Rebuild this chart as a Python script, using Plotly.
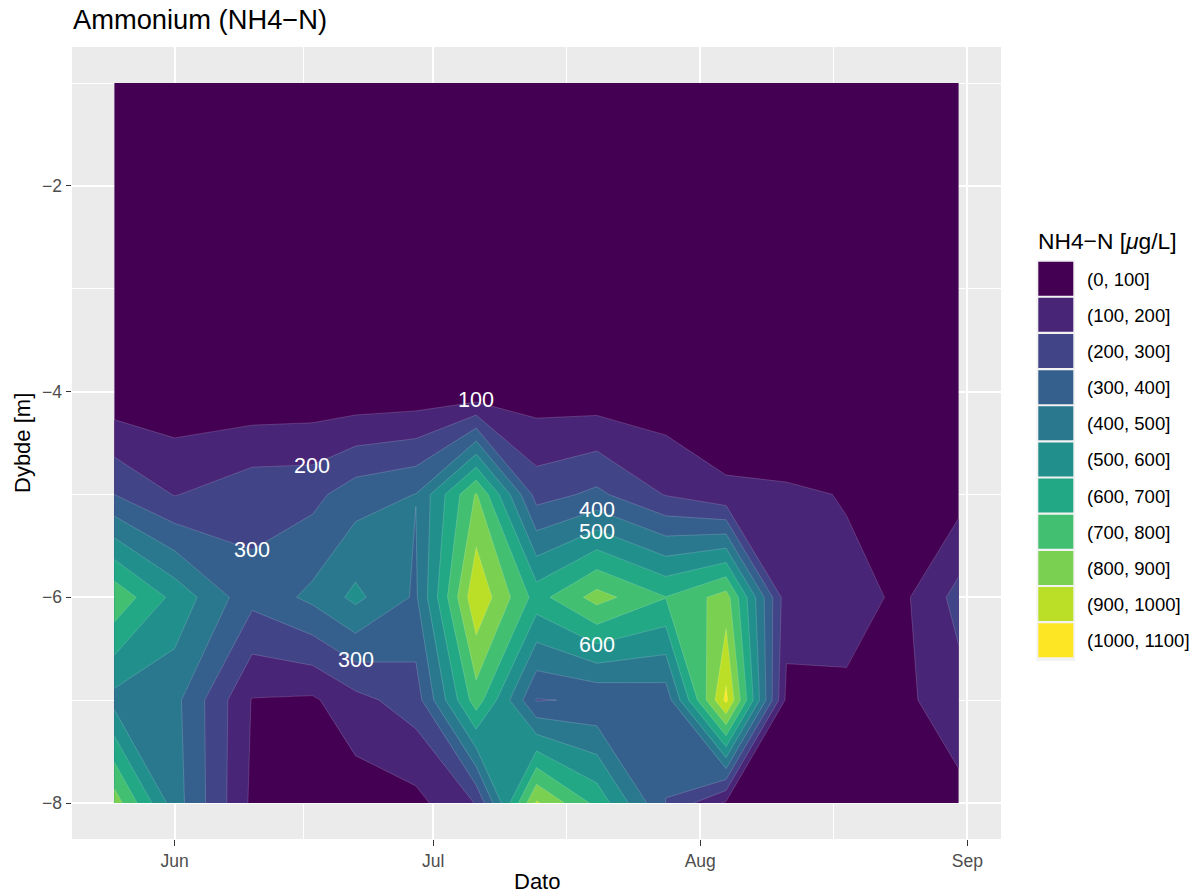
import plotly.graph_objects as go
import pandas as pd

# ---------------- data ----------------
dates = ["2023-05-25", "2023-06-01", "2023-06-10", "2023-06-17", "2023-06-22",
         "2023-06-29", "2023-07-06", "2023-07-13", "2023-07-20", "2023-07-28",
         "2023-08-04", "2023-08-11", "2023-08-18", "2023-08-25", "2023-08-31"]
depths = [-1, -2, -3, -4, -5, -6, -7, -8]

nh4_1m = [18, 22, 15, 20, 25, 19, 23, 28, 21, 17, 12, 10, 9, 8, 11]
nh4_2m = [20, 19, 17, 22, 24, 21, 25, 30, 24, 19, 10, 9, 8, 7, 9]
nh4_3m = [22, 20, 18, 24, 22, 26, 22, 35, 28, 25, 8, 7, 6, 6, 7]
nh4_4m = [25, 22, 20, 26, 25, 30, 20, 45, 33, 31, 5, 5, 5, 5, 5]
nh4_5m = [300, 195, 265, 270, 355, 402, 810, 258, 322, 194, 122, 113, 96, 50, 60]
nh4_6m = [775, 570, 330, 425, 525, 385, 985, 660, 840, 703, 845, 140, 115, 91, 235]
nh4_7m = [465, 430, 95, 85, 168, 250, 755, 295, 310, 338, 1025, 78, 93, 84, 160]
nh4_8m = [855, 447, 80, 50, 42, 70, 205, 913, 670, 298, 85, 30, 40, 30, 70]

# contour labels
label_dates = ["2023-07-06", "2023-06-17", "2023-06-10", "2023-06-22",
               "2023-07-20", "2023-07-20", "2023-07-20"]
label_depths = [-4.08, -4.72, -5.54, -6.61, -5.15, -5.37, -6.46]
label_texts = ["100", "200", "300", "300", "400", "500", "600"]

# legend bins and viridis colours
bins = [0, 100, 200, 300, 400, 500, 600, 700, 800, 900, 1000, 1100]
colors = ["#440154", "#482576", "#414487", "#35608D", "#2A788E", "#21908C",
          "#22A884", "#43BF71", "#7AD151", "#BBDF27", "#FDE725"]

x_major = ["2023-06-01", "2023-07-01", "2023-08-01", "2023-09-01"]
x_major_text = ["Jun", "Jul", "Aug", "Sep"]
x_minor = ["2023-06-16", "2023-07-16 12:00", "2023-08-16 12:00"]
y_major = [-2, -4, -6, -8]
y_minor = [-1, -3, -5, -7]

# ---------------- figure ----------------
FONT = "Liberation Sans, Arial, Helvetica, sans-serif"
W, H = 1200, 894
L, R, T, B = 72, 1001, 47, 839


def px(xp):
    return (xp - L) / (R - L)


def py(yp):
    return (B - yp) / (B - T)


z = [nh4_1m, nh4_2m, nh4_3m, nh4_4m, nh4_5m, nh4_6m, nh4_7m, nh4_8m]
n = len(colors)
colorscale = [[i / (n - 1), c] for i, c in enumerate(colors)]

fig = go.Figure()
fig.add_trace(go.Contour(
    x=pd.to_datetime(dates), y=depths, z=z,
    colorscale=colorscale, showscale=False,
    contours=dict(start=bins[1], end=bins[-2], size=bins[1] - bins[0],
                  coloring="fill", showlines=True),
    line=dict(color="rgba(255,255,255,0.28)", width=0.6, smoothing=0),
    hoverinfo="skip",
))

# x range with ggplot 5% expansion
d = pd.to_datetime(dates)
span = d.max() - d.min()
xr = [d.min() - 0.05 * span, d.max() + 0.05 * span]
yspan = max(depths) - min(depths)
yr = [min(depths) - 0.05 * yspan, max(depths) + 0.05 * yspan]

for dt, dp, tx in zip(label_dates, label_depths, label_texts):
    fig.add_annotation(x=dt, y=dp, text=tx, showarrow=False,
                       font=dict(family=FONT, size=21.5, color="white"))

shapes = []
annotations = []
# legend
shapes.append(dict(type="rect", xref="paper", yref="paper",
                   x0=px(1036.5), x1=px(1075), y0=py(661), y1=py(260),
                   fillcolor="#F2F2F2", line=dict(width=0), layer="above"))
for k in range(n):
    top = 261.7 + 36.15 * k
    shapes.append(dict(type="rect", xref="paper", yref="paper",
                       x0=px(1038.3), x1=px(1073.3), y0=py(top + 34), y1=py(top),
                       fillcolor=colors[k], line=dict(width=0), layer="above"))
    annotations.append(dict(xref="paper", yref="paper", x=px(1085), y=py(top + 17.5),
                            xanchor="left", yanchor="middle", showarrow=False,
                            text=f"({bins[k]}, {bins[k + 1]}]",
                            font=dict(family=FONT, size=18.5, color="black")))
annotations.append(dict(xref="paper", yref="paper", x=px(1036), y=py(241),
                        xanchor="left", yanchor="middle", showarrow=False,
                        text="NH4\u2212N [<i>\u03bc</i>g/L]",
                        font=dict(family=FONT, size=22.8, color="black")))
# title and axis titles
annotations.append(dict(xref="paper", yref="paper", x=px(71), y=py(20),
                        xanchor="left", yanchor="middle", showarrow=False,
                        text="Ammonium (NH4\u2212N)",
                        font=dict(family=FONT, size=27.3, color="black")))
annotations.append(dict(xref="paper", yref="paper", x=px((L + R) / 2), y=py(881),
                        xanchor="center", yanchor="middle", showarrow=False,
                        text="Dato", font=dict(family=FONT, size=22, color="black")))
annotations.append(dict(xref="paper", yref="paper", x=px(22), y=py((T + B) / 2),
                        xanchor="center", yanchor="middle", showarrow=False,
                        textangle=-90, text="Dybde [m]",
                        font=dict(family=FONT, size=22, color="black")))
for a in annotations:
    fig.add_annotation(**a)

fig.update_layout(
    width=W, height=H,
    margin=dict(l=L, r=W - R, t=T, b=H - B, pad=0),
    paper_bgcolor="white", plot_bgcolor="#EBEBEB",
    showlegend=False, shapes=shapes,
    font=dict(family=FONT),
)
fig.update_xaxes(
    range=xr, tickmode="array", tickvals=x_major, ticktext=x_major_text,
    showgrid=True, gridcolor="white", gridwidth=2.4, zeroline=False,
    ticks="outside", ticklen=5.5, tickwidth=1.4, tickcolor="#333333",
    tickfont=dict(family=FONT, size=17.5, color="#4D4D4D"),
    minor=dict(tickmode="array", tickvals=x_minor, showgrid=True,
               gridcolor="white", gridwidth=1.2, ticks=""),
    showline=False,
)
fig.update_yaxes(
    range=yr, tickmode="array", tickvals=y_major,
    showgrid=True, gridcolor="white", gridwidth=2.4, zeroline=False,
    ticks="outside", ticklen=5.5, tickwidth=1.4, tickcolor="#333333",
    tickfont=dict(family=FONT, size=17.5, color="#4D4D4D"),
    minor=dict(tickmode="array", tickvals=y_minor, showgrid=True,
               gridcolor="white", gridwidth=1.2, ticks=""),
    showline=False,
)

fig.write_html("out.html")
